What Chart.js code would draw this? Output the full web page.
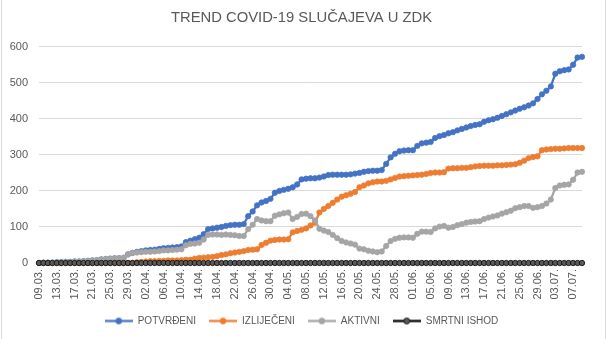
<!DOCTYPE html>
<html>
<head>
<meta charset="utf-8">
<script src="https://cdn.jsdelivr.net/npm/chart.js@4.4.1/dist/chart.umd.min.js"></script>
<style>
    html, body { margin: 0; padding: 0; background: #fff; }
    #wrap { position: relative; width: 611px; height: 339px; }
</style>
</head>
<body>
<div id="wrap"><canvas id="trendChart" width="611" height="339"></canvas></div>
<script>
// ── Data ──────────────────────────────────────────────────────────
var dates = [
    '09.03.','10.03.','11.03.','12.03.','13.03.','14.03.','15.03.','16.03.','17.03.','18.03.',
    '19.03.','20.03.','21.03.','22.03.','23.03.','24.03.','25.03.','26.03.','27.03.','28.03.',
    '29.03.','30.03.','31.03.',
    '01.04.','02.04.','03.04.','04.04.','05.04.','06.04.','07.04.','08.04.','09.04.','10.04.',
    '11.04.','12.04.','13.04.','14.04.','15.04.','16.04.','17.04.','18.04.','19.04.','20.04.',
    '21.04.','22.04.','23.04.','24.04.','25.04.','26.04.','27.04.','28.04.','29.04.','30.04.',
    '01.05.','02.05.','03.05.','04.05.','05.05.','06.05.','07.05.','08.05.','09.05.','10.05.',
    '11.05.','12.05.','13.05.','14.05.','15.05.','16.05.','17.05.','18.05.','19.05.','20.05.',
    '21.05.','22.05.','23.05.','24.05.','25.05.','26.05.','27.05.','28.05.','29.05.','30.05.',
    '31.05.',
    '01.06.','02.06.','03.06.','04.06.','05.06.','06.06.','07.06.','08.06.','09.06.','10.06.',
    '11.06.','12.06.','13.06.','14.06.','15.06.','16.06.','17.06.','18.06.','19.06.','20.06.',
    '21.06.','22.06.','23.06.','24.06.','25.06.','26.06.','27.06.','28.06.','29.06.','30.06.',
    '01.07.','02.07.','03.07.','04.07.','05.07.','06.07.','07.07.','08.07.','09.07.'
];

var potvrdeni = [
    0, 1, 1, 1, 2, 2, 3, 3, 4, 4,
    5, 6, 7, 8, 10, 11, 12, 13, 13, 14,
    24, 28, 31, 33, 35, 36, 37, 39, 41, 42,
    43, 44, 46, 58, 62, 66, 70, 80, 94, 96,
    98, 100, 103, 105, 106, 106, 108, 130, 143, 160,
    168, 172, 178, 195, 200, 203, 206, 210, 218, 232,
    234, 235, 235, 237, 240, 244, 245, 245, 245, 245,
    246, 248, 250, 253, 255, 256, 256, 258, 275, 293,
    303, 310, 312, 313, 313, 325, 332, 334, 336, 347,
    352, 355, 360, 363, 368, 372, 376, 380, 383, 385,
    392, 396, 399, 403, 408, 413, 418, 423, 428, 432,
    437, 443, 455, 468, 478, 490, 525, 532, 535, 537,
    550, 570, 572
];

var izlijeceni = [
    0, 0, 0, 0, 0, 0, 0, 0, 0, 0,
    0, 0, 0, 0, 0, 0, 0, 0, 0, 0,
    0, 0, 2, 3, 4, 5, 5, 6, 6, 7,
    7, 7, 8, 9, 9, 12, 14, 15, 16, 17,
    19, 22, 24, 27, 29, 31, 33, 36, 37, 38,
    50, 56, 62, 64, 65, 65, 66, 85, 89, 92,
    96, 104, 112, 140, 150, 158, 167, 176, 184, 188,
    192, 197, 210, 215, 221, 224, 226, 226, 228, 232,
    236, 240, 241, 242, 243, 244, 245, 247, 250, 251,
    251, 252, 262, 263, 263, 264, 264, 266, 268, 269,
    270, 270, 270, 271, 271, 272, 273, 274, 278, 284,
    291, 294, 296, 313, 315, 316, 317, 317, 318, 319,
    319, 319, 319
];

var aktivni = [
    0, 1, 1, 1, 2, 2, 3, 3, 4, 4,
    5, 6, 7, 8, 10, 11, 12, 13, 13, 14,
    24, 28, 29, 30, 31, 31, 32, 33, 35, 35,
    36, 37, 38, 49, 53, 54, 56, 65, 78, 79,
    79, 78, 79, 78, 77, 75, 75, 94, 106, 122,
    118, 116, 116, 131, 135, 138, 140, 122, 128, 136,
    137, 130, 118, 95, 90, 86, 78, 69, 61, 57,
    54, 51, 40, 38, 34, 32, 30, 32, 47, 61,
    67, 70, 71, 71, 70, 81, 87, 87, 86, 96,
    101, 103, 98, 100, 105, 108, 112, 114, 115, 116,
    122, 126, 129, 132, 137, 141, 145, 152, 155, 158,
    158, 153, 155, 158, 165, 176, 208, 215, 217, 218,
    231, 251, 253
];

var smrtniIshod = [
    0, 0, 0, 0, 0, 0, 0, 0, 0, 0,
    0, 0, 0, 0, 0, 0, 0, 0, 0, 0,
    0, 0, 0, 0, 0, 0, 0, 0, 0, 0,
    0, 0, 0, 0, 0, 0, 0, 0, 0, 0,
    0, 0, 0, 0, 0, 0, 0, 0, 0, 0,
    0, 0, 0, 0, 0, 0, 0, 0, 0, 0,
    0, 0, 0, 0, 0, 0, 0, 0, 0, 0,
    0, 0, 0, 0, 0, 0, 0, 0, 0, 0,
    0, 0, 0, 0, 0, 0, 0, 0, 0, 0,
    0, 0, 0, 0, 0, 0, 0, 0, 0, 0,
    0, 0, 0, 0, 0, 0, 0, 0, 0, 0,
    0, 0, 0, 0, 0, 0, 0, 0, 0, 0,
    0, 0, 0
];

var yTicks = [0, 100, 200, 300, 400, 500, 600];

(function () {
    'use strict';

    var FONT = "'Liberation Sans', Arial, sans-serif";
    var TEXT = '#595959';
    var GRID = '#d9d9d9';

    // legend symbol: short line with a marker in the middle (Excel style)
    function legendIcon(line, fill, stroke) {
        var c = document.createElement('canvas');
        c.width = 28; c.height = 9;
        var g = c.getContext('2d');
        g.strokeStyle = line;
        g.lineWidth = 2.25;
        g.beginPath(); g.moveTo(0, 4.5); g.lineTo(28, 4.5); g.stroke();
        g.beginPath(); g.arc(14, 4.5, 3, 0, Math.PI * 2);
        g.fillStyle = fill; g.fill();
        g.lineWidth = 0.75; g.strokeStyle = stroke; g.stroke();
        return c;
    }

    function series(label, data, color, fill, edge, order) {
        return {
            label: label,
            data: data,
            borderColor: color,
            backgroundColor: fill,
            borderWidth: 2.25,
            pointRadius: 2.7,
            pointBorderWidth: 0.75,
            pointBackgroundColor: fill,
            pointBorderColor: edge,
            tension: 0,
            clip: false,
            order: order,
            icon: legendIcon(color, fill, edge)
        };
    }

    var datasets = [
        series('POTVRĐENI',    potvrdeni,   '#4472C4', '#4472C4', '#4472C4', 4),
        series('IZLIJEČENI',   izlijeceni,  '#ED7D31', '#ED7D31', '#ED7D31', 3),
        series('AKTIVNI',      aktivni,     '#A5A5A5', '#A5A5A5', '#A5A5A5', 2),
        series('SMRTNI ISHOD', smrtniIshod, '#000000', '#595959', '#000000', 1)
    ];

    var framePlugin = {
        id: 'frame',
        beforeDraw: function (chart) {
            var ctx = chart.ctx;
            ctx.save();
            ctx.strokeStyle = GRID;
            ctx.lineWidth = 1;
            ctx.beginPath();
            ctx.moveTo(1.5, 0); ctx.lineTo(1.5, 339);
            ctx.moveTo(605.5, 0); ctx.lineTo(605.5, 339);
            ctx.stroke();
            ctx.restore();
        }
    };

    new Chart(document.getElementById('trendChart'), {
        type: 'line',
        data: { labels: dates, datasets: datasets },
        plugins: [framePlugin],
        options: {
            responsive: false,
            animation: false,
            layout: { padding: { left: 0, right: 8, top: 0, bottom: 3 } },
            plugins: {
                tooltip: { enabled: false },
                title: {
                    display: true,
                    text: 'TREND COVID-19 SLUČAJEVA U ZDK',
                    color: TEXT,
                    font: { family: FONT, size: 14.8, weight: 'normal', lineHeight: 1.2 },
                    padding: { top: 9, bottom: 20 }
                },
                legend: {
                    position: 'bottom',
                    labels: {
                        color: TEXT,
                        font: { family: FONT, size: 10 },
                        usePointStyle: true,
                        pointStyleWidth: 28,
                        boxHeight: 9,
                        padding: 13,
                        sort: function (a, b) { return a.datasetIndex - b.datasetIndex; },
                        generateLabels: function (chart) {
                            var items = Chart.defaults.plugins.legend.labels.generateLabels(chart);
                            items.forEach(function (it) {
                                it.pointStyle = chart.data.datasets[it.datasetIndex].icon;
                            });
                            return items;
                        }
                    }
                }
            },
            scales: {
                x: {
                    offset: false,
                    grid: { display: false, drawTicks: false },
                    border: { display: false },
                    ticks: {
                        autoSkip: false,
                        minRotation: 90,
                        maxRotation: 90,
                        padding: 6,
                        color: TEXT,
                        font: { family: FONT, size: 11 },
                        callback: function (v, i) {
                            return i % 4 === 0 ? this.getLabelForValue(v) : null;
                        }
                    },
                    afterFit: function (s) { s.height = 40; }
                },
                y: {
                    min: yTicks[0],
                    max: yTicks[yTicks.length - 1],
                    afterBuildTicks: function (s) {
                        s.ticks = yTicks.map(function (v) { return { value: v }; });
                    },
                    grid: { color: GRID, drawTicks: false },
                    border: { display: false },
                    ticks: {
                        padding: 11,
                        color: TEXT,
                        font: { family: FONT, size: 11 }
                    },
                    afterFit: function (s) { s.width = 39; }
                },
                // empty right-hand spacer so the plot ends where the reference does
                spacer: {
                    type: 'linear',
                    position: 'right',
                    display: true,
                    grid: { display: false, drawTicks: false },
                    border: { display: false },
                    ticks: { display: false },
                    afterFit: function (s) { s.width = 21; }
                }
            }
        }
    });
})();
</script>
</body>
</html>
